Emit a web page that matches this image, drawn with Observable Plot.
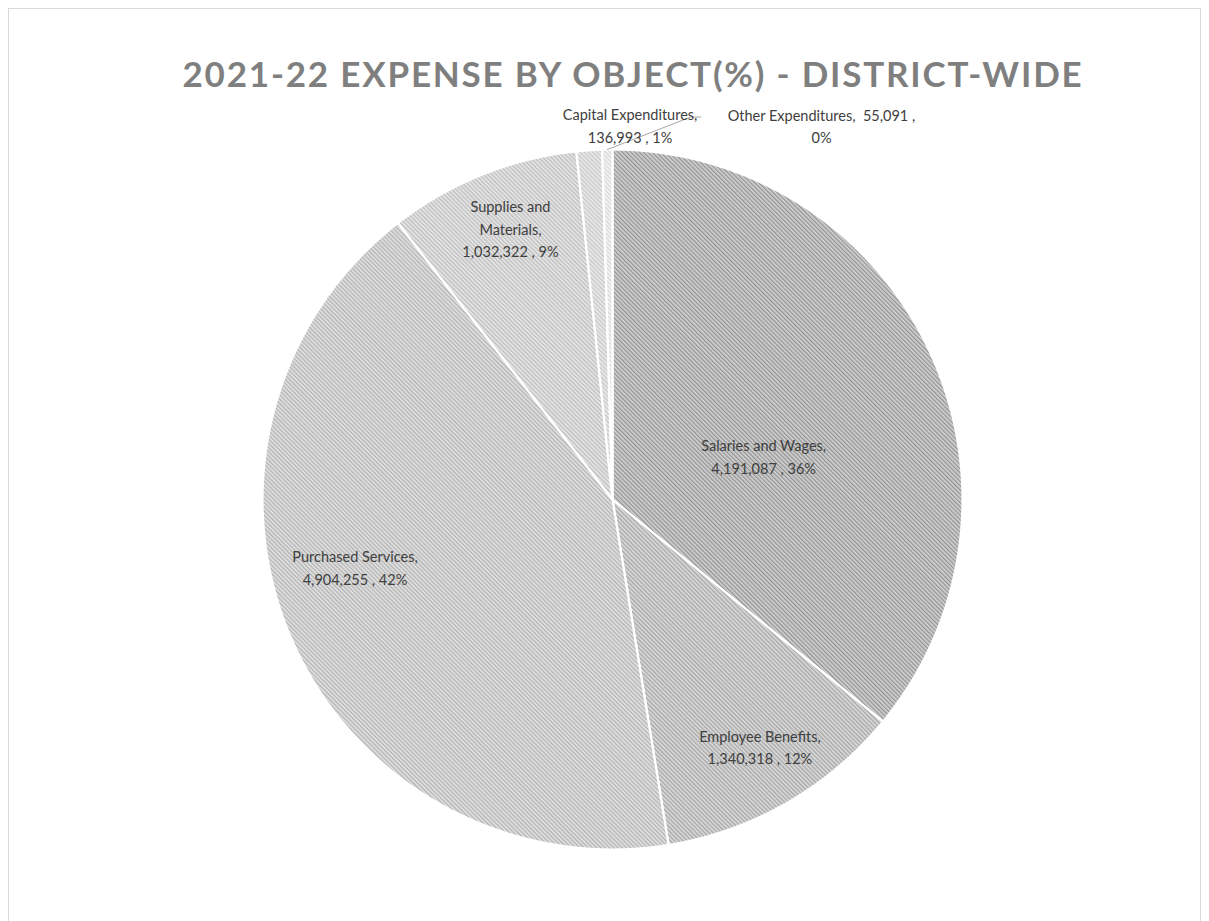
<!DOCTYPE html>
<html><head><meta charset="utf-8">
<script src="https://cdn.jsdelivr.net/npm/d3@7"></script>
<script src="https://cdn.jsdelivr.net/npm/@observablehq/plot@0.6"></script>
<style>
html,body{margin:0;padding:0;background:#fff;}
#frame{position:absolute;left:8px;top:8px;width:1193px;height:940px;border:1px solid #d9d9d9;border-bottom:none;box-sizing:border-box;}
#title{position:absolute;left:0;width:1266px;top:52px;text-align:center;font:bold 35px Lato, "Open Sans", sans-serif;color:#7f7f7f;letter-spacing:1.8px;white-space:nowrap;}
#chart{position:absolute;left:0;top:95px;}
</style></head><body>
<div id="frame"></div>
<div id="title">2021-22 EXPENSE BY OBJECT(%) - DISTRICT-WIDE</div>
<div id="chart"></div>
<script>
// ---- data ----
const categories = ["Salaries and Wages", "Employee Benefits", "Purchased Services", "Supplies and Materials", "Capital Expenditures", "Other Expenditures"];
const amounts = [4191087, 1340318, 4904255, 1032322, 136993, 55091];
const percentLabels = ["36%", "12%", "42%", "9%", "1%", "0%"];

// ---- styling / layout (not data) ----
const patternColors = [
  {bg: "#d2d2d2", fg: "#939393"},
  {bg: "#dbdbdb", fg: "#a5a5a5"},
  {bg: "#e2e2e2", fg: "#b2b2b2"},
  {bg: "#e7e7e7", fg: "#bcbcbc"},
  {bg: "#ebebeb", fg: "#c6c6c6"},
  {bg: "#f4f4f4", fg: "#d8d8d8"}
];
// [angle offset from slice middle (deg), radius as fraction of pie radius]
const labelPlacement = [[9, 0.45], [-1, 0.82], [9, 0.76], [1.3, 0.83], [6.5, 1.073], [30, 1.226]];
const fmt = d3.format(",");
function labelText(i) {
  const c = categories[i], v = fmt(amounts[i]), p = percentLabels[i];
  if (i === 3) return "Supplies and\nMaterials,\n" + v + " , " + p;
  if (i === 5) return c + ",  " + v + " ,\n" + p;
  return c + ",\n" + v + " , " + p;
}

const R = 350, cx = 612, cy = 404, W = 1209, H = 826;
const arcs = d3.pie().sort(null).value(d => d)(amounts);

function slicePoints(a) {
  const pts = [{x: 0, y: 0}];
  const n = Math.max(2, Math.ceil((a.endAngle - a.startAngle) / (Math.PI / 720)));
  for (let k = 0; k <= n; k++) {
    const t = a.startAngle + (a.endAngle - a.startAngle) * k / n;
    pts.push({x: Math.sin(t), y: Math.cos(t)});
  }
  return pts;
}

const labels = arcs.map((a, i) => {
  const mid = (a.startAngle + a.endAngle) / 2 + labelPlacement[i][0] * Math.PI / 180;
  const r = labelPlacement[i][1];
  return {x: r * Math.sin(mid), y: r * Math.cos(mid), text: labelText(i)};
});

// leader line for the "Other" slice
const oa = arcs[5];
const om = (oa.startAngle + oa.endAngle) / 2;
const leader = [
  {x: Math.sin(om), y: Math.cos(om)},
  {x: labels[5].x - 0.374, y: labels[5].y + 0.022},
  {x: labels[5].x - 0.345, y: labels[5].y + 0.022}
];

const sliceMarks = arcs.map((a, i) => Plot.line(slicePoints(a), {
  x: "x", y: "y", curve: "linear-closed",
  fill: `url(#pat${i})`, stroke: "white", strokeWidth: 2.2, strokeLinejoin: "round"
}));

const plot = Plot.plot({
  width: W, height: H, margin: 0,
  style: {background: "none", overflow: "visible"},
  x: {domain: [-cx / R, (W - cx) / R], axis: null},
  y: {domain: [-(H - cy) / R, cy / R], axis: null},
  marks: [
    ...sliceMarks,
    Plot.line(leader, {x: "x", y: "y", stroke: "#a6a6a6", strokeWidth: 1}),
    Plot.text(labels, {x: "x", y: "y", text: "text", fontSize: 14.5, fill: "#404040",
      fontFamily: "Lato, 'Open Sans', sans-serif", lineHeight: 1.55})
  ]
});

const svg = d3.select(plot);
const defs = svg.insert("defs", ":first-child");
patternColors.forEach((p, i) => {
  const pat = defs.append("pattern").attr("id", "pat" + i)
    .attr("patternUnits", "userSpaceOnUse").attr("width", 3).attr("height", 3)
    .attr("patternTransform", "rotate(-45)");
  pat.append("rect").attr("width", 3).attr("height", 3).attr("fill", p.bg);
  pat.append("rect").attr("width", 1.3).attr("height", 3).attr("fill", p.fg);
});
document.getElementById("chart").appendChild(plot);
</script>
</body></html>
